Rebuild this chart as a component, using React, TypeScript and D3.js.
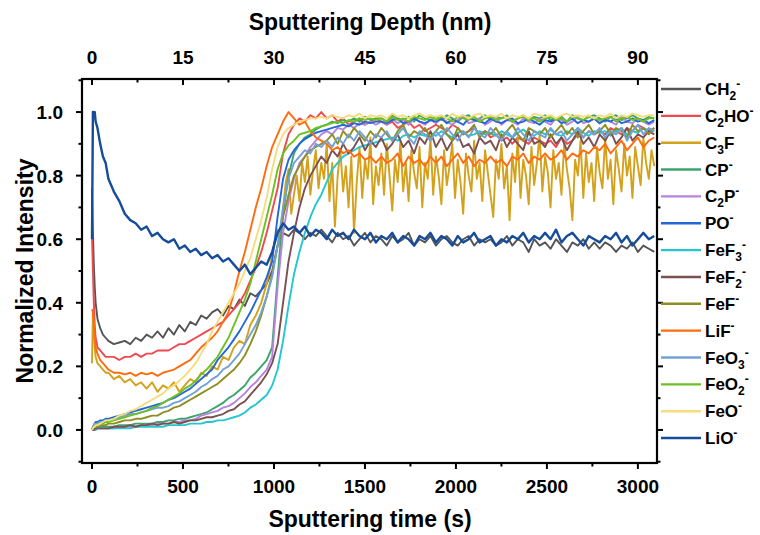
import React from "react";
import * as d3 from "d3";

// Sputtering time (s) sample points
const TIMES = [0, 5, 10, 15, 20, 30, 45, 60, 75,
  90, 120, 150, 180, 210, 240, 270, 300, 330, 360,
  390, 420, 450, 480, 510, 540, 570, 600, 630, 660,
  690, 720, 750, 780, 810, 840, 870, 900, 930, 960,
  990, 1020, 1050, 1080, 1110, 1140, 1170, 1200, 1230, 1260,
  1290, 1320, 1350, 1380, 1410, 1440, 1470, 1500, 1530, 1560,
  1590, 1620, 1650, 1680, 1710, 1740, 1770, 1800, 1830, 1860,
  1890, 1920, 1950, 1980, 2010, 2040, 2070, 2100, 2130, 2160,
  2190, 2220, 2250, 2280, 2310, 2340, 2370, 2400, 2430, 2460,
  2490, 2520, 2550, 2580, 2610, 2640, 2670, 2700, 2730, 2760,
  2790, 2820, 2850, 2880, 2910, 2940, 2970, 3000, 3030, 3060,
  3090];

// C3F is sampled on a finer grid after 960 s (it is very noisy)
const C3F_TIMES = TIMES.slice(0, 39).concat(d3.range(975, 3091, 15));

// Normalized intensity (in %)
const CH2 = [76, 62, 52, 45, 40, 35, 32, 30, 29,
  28, 27, 27.5, 28, 27, 29, 28, 30, 29, 31,
  29, 32, 30, 33, 31, 34, 33, 36, 35, 37,
  38, 36, 39, 38, 41, 39, 43, 42, 44, 46,
  50, 58, 62, 61, 63, 62, 60, 62, 61, 63,
  61, 59, 62, 60, 61, 58, 60, 62, 59, 61,
  60, 58, 61, 59, 60, 62, 58, 60, 59, 61,
  58, 60, 61, 59, 58, 60, 61, 58, 60, 59,
  60, 58, 59, 61, 58, 60, 59, 56, 60, 58,
  59, 57, 60, 58, 56, 59, 58, 60, 57, 59,
  57, 59, 58, 56, 58, 57, 59, 56, 58, 57,
  56];
const C2HO = [61, 50, 40, 33, 29, 26, 25, 24, 23,
  23, 23, 22, 23, 23, 24, 23, 24, 24, 25,
  25, 25, 26, 27, 27, 28, 29, 30, 31, 32,
  33, 34, 36, 38, 40, 43, 47, 51, 56, 62,
  69, 76, 87, 93, 96, 98, 97, 99, 98, 100,
  98, 99, 97, 98, 96, 97, 98, 96, 97, 98,
  97, 96, 97, 95, 96, 97, 95, 96, 94, 95,
  96, 95, 94, 96, 95, 93, 94, 95, 93, 94,
  92, 93, 91, 92, 90, 92, 91, 90, 92, 91,
  90, 91, 89, 92, 90, 91, 93, 92, 94, 93,
  94, 93, 95, 94, 93, 95, 94, 96, 95, 94,
  95];
const C3F = [21, 37, 32, 26, 23, 21, 20, 19, 18,
  18, 16, 17, 15, 16, 14, 15, 13, 15, 12,
  14, 13, 15, 12, 14, 16, 15, 18, 17, 20,
  19, 23, 22, 26, 28, 27, 33, 36, 40, 46,
  50, 55, 60, 63, 58, 70, 78, 82, 68, 74, 80, 72, 84, 78, 86, 74, 82, 88, 76, 84,
  79, 90, 72, 84, 64, 80, 88, 75, 83, 70,
  86, 62, 78, 89, 73, 85, 79, 92, 71, 83,
  77, 87, 74, 90, 80, 69, 85, 78, 91, 75,
  84, 72, 88, 81, 76, 89, 70, 84, 79, 92,
  74, 86, 80, 71, 88, 77, 83, 90, 73, 85,
  78, 68, 87, 80, 75, 91, 79, 84, 72, 88,
  81, 74, 67, 85, 79, 90, 76, 83, 66, 87,
  78, 92, 73, 85, 80, 71, 89, 77, 84, 93,
  75, 86, 81, 70, 88, 79, 84, 74, 90, 82,
  76, 66, 85, 80, 91, 73, 87, 78, 84, 72,
  89, 81, 76, 92, 79, 85, 71, 88, 82, 75,
  90, 80, 86, 73, 89, 83, 77, 92, 84, 79,
  88, 83];
const CP = [0, 0, 0.5, 0.5, 1, 1, 1, 1, 1,
  1, 1, 1.5, 1.5, 1.5, 2, 2, 2, 2, 2.5,
  2.5, 3, 3, 3.5, 3.5, 4, 4.5, 5, 5.5, 6.5,
  7.5, 8.5, 10, 11, 12.5, 14, 16.5, 18, 20, 22,
  26, 48, 68, 80, 87, 90, 92, 93, 94.5, 95.5,
  96, 97, 96.5, 97.5, 97, 98, 97, 98.5, 97.5, 98,
  98, 97, 99, 98, 97.5, 98.5, 97, 99, 98, 97.5,
  98.5, 97.5, 99, 98, 97, 98.5, 99, 97.5, 98, 99,
  97.5, 98.5, 98, 99, 97, 98, 99, 97.5, 98.5, 98,
  99, 97.5, 98, 98.5, 97, 99, 98, 97.5, 98.5, 99,
  98, 97, 98.5, 99, 97.5, 98, 99, 98, 97.5, 98.5,
  98];
const C2P = [0, 0, 0.5, 0.5, 0.5, 0.5, 0.5, 0.5, 0.5,
  0.5, 0.5, 1, 1, 1, 1, 1.5, 1.5, 1.5, 2,
  2, 2, 2.5, 2.5, 3, 3, 3.5, 4.5, 5, 5.5,
  6, 7, 7.5, 8.5, 10, 11.5, 13.5, 15, 17, 19,
  23, 45, 62, 72, 79, 84, 86, 89, 91, 93,
  94, 93, 95, 94.5, 96, 95, 96.5, 96, 97, 96,
  97, 96, 98, 96.5, 97.5, 96, 98, 97, 96, 97.5,
  96.5, 98, 97, 96, 97.5, 99, 96.5, 97, 98, 96,
  97, 98.5, 96, 97.5, 97, 96, 98, 97, 96.5, 98,
  97, 96, 98, 97.5, 96, 97, 98.5, 96.5, 97, 98,
  96.5, 98, 97, 96, 98.5, 97, 96.5, 98, 97, 96,
  97];
const PO = [0, 1, 1.5, 2, 2.5, 2.5, 3, 3, 3.5,
  3.5, 4, 4.5, 5, 5.5, 6, 6.5, 7, 7.5, 8,
  8.5, 9.5, 10, 11, 12, 13, 14.5, 16, 17.5, 19,
  22, 24, 26, 28.5, 31, 34, 37, 40.5, 44, 48,
  53, 67, 79, 85, 88, 90, 91.5, 92.5, 93.5, 94,
  94.5, 95, 95.5, 96, 95.5, 96.5, 96, 97, 96.5, 97,
  97, 96.5, 97.5, 98, 96.5, 97, 98, 97, 96.5, 97.5,
  97, 98, 96.5, 97.5, 97, 96, 98, 97.5, 97, 96.5,
  98, 97, 96.5, 97.5, 98, 96.5, 97, 98, 97, 96,
  97.5, 97, 98, 96.5, 97, 98, 96.5, 97.5, 97, 98,
  96.5, 97.5, 97, 98, 96.5, 97, 98, 97, 97.5, 96.5,
  97.5];
const FEF3 = [0, 0, 0, 0, 0, 0.5, 0.5, 0.5, 0.5,
  0.5, 0.5, 0.5, 0.5, 0.5, 1, 1, 1, 1, 1,
  1, 1.5, 1.5, 1.5, 1.5, 2, 2, 2, 2.5, 2.5,
  3, 3, 3.5, 4, 4.5, 5.5, 7, 8, 9.5, 11,
  14, 19, 28, 39, 49, 56, 62, 67, 71, 74,
  78, 82, 84, 86, 87, 88, 89, 89.5, 90, 90.5,
  91, 91.5, 92, 91, 92.5, 93, 92, 93, 92.5, 93.5,
  92.5, 94, 93, 92, 93.5, 94, 92.5, 93, 94, 93,
  93.5, 92.5, 94, 93, 92, 93.5, 94.5, 93, 92.5, 94,
  93, 94.5, 93, 92.5, 94, 93, 95, 93.5, 92.5, 94,
  93.5, 94, 92.5, 94, 95, 93, 94, 93.5, 95, 94,
  94];
const FEF2 = [0, 0, 0, 0.5, 0.5, 0.5, 0.5, 0.5, 0.5,
  0.5, 1, 1, 1, 1.5, 1, 1.5, 1.5, 2, 1.5,
  2, 2, 2.5, 2, 2.5, 3, 3, 3.5, 4, 4,
  4.5, 5, 6, 6.5, 8, 9, 11, 13, 15, 17.5,
  21, 27, 40, 53, 62, 70, 76, 80, 83, 86,
  84, 88, 86, 90, 87, 89, 92, 88, 91, 89,
  92, 88, 90, 93, 89, 91, 87, 92, 90, 94,
  89, 92, 88, 91, 93, 89, 90, 87, 92, 90,
  91, 88, 93, 89, 92, 90, 88, 94, 90, 91,
  89, 93, 90, 92, 88, 91, 94, 90, 92, 89,
  93, 91, 94, 90, 92, 95, 91, 93, 92, 94,
  93];
const FEF = [0, 0.5, 1, 1, 1, 1, 1.5, 1.5, 1.5,
  2, 2, 2.5, 3, 3, 3.5, 3.5, 4, 4.5, 4.5,
  5.5, 6, 7, 7.5, 8.5, 9.5, 10.5, 11.5, 12.5, 13.5,
  14.5, 16, 17.5, 19, 21, 23.5, 27, 31, 36, 42,
  49, 58, 67, 74, 80, 83, 86, 88, 89, 90,
  91, 93, 90, 94, 92, 95, 93, 91, 94, 92,
  95, 93, 91, 94, 96, 92, 94, 93, 95, 92,
  94, 96, 93, 91, 95, 93, 94, 96, 92, 94,
  93, 95, 92, 94, 96, 93, 91, 95, 94, 93,
  95, 92, 94, 96, 93, 95, 92, 94, 96, 93,
  94, 96, 93, 95, 94, 92, 96, 94, 95, 93,
  95];
const LIF = [38, 37, 33, 29, 26, 24, 22, 21, 20,
  19, 18, 18, 17.5, 18, 17, 18, 17.5, 18, 17,
  18, 18.5, 19, 20, 21, 22, 24, 26, 27.5, 29,
  31, 34, 37, 43, 50, 56, 63, 70, 76, 83,
  89, 93, 97, 100, 98, 96, 97, 94, 92, 91,
  90, 88, 89, 87, 88, 86, 87, 85, 86, 84,
  86, 84, 85, 87, 83, 86, 84, 85, 83, 86,
  84, 86, 83, 85, 87, 84, 86, 83, 85, 84,
  86, 84, 85, 83, 86, 85, 87, 84, 86, 85,
  87, 85, 86, 88, 85, 87, 86, 88, 87, 89,
  88, 90, 87, 89, 91, 88, 90, 92, 89, 91,
  92];
const FEO3 = [0, 1, 1.5, 2, 2, 2, 2.5, 2.5, 3,
  3, 3.5, 4, 4.5, 5, 5, 5.5, 6, 6.5, 7,
  7, 7.5, 8.5, 9, 10, 11, 12, 13.5, 14.5, 16,
  17, 19, 20, 22, 24, 27, 30, 33, 37, 42,
  48, 58, 70, 79, 84, 86, 88, 87, 90, 89,
  91, 89, 92, 90, 93, 91, 94, 92, 90, 93,
  92, 94, 91, 93, 95, 92, 90, 94, 93, 91,
  94, 92, 95, 93, 91, 94, 92, 95, 93, 92,
  95, 93, 91, 94, 92, 95, 93, 91, 94, 93,
  92, 95, 93, 94, 91, 93, 95, 92, 94, 93,
  95, 92, 94, 93, 95, 91, 94, 96, 93, 95,
  94];
const FEO2 = [0, 0.5, 1, 1, 1.5, 1.5, 2, 2, 2.5,
  2.5, 3, 3.5, 4, 4.5, 5, 5.5, 6, 7, 7.5,
  8.5, 9.5, 10.5, 11.5, 13, 14, 15.5, 17.5, 19, 21,
  23, 26, 29, 33, 37, 41, 46, 53, 60, 67,
  74, 82, 87, 89.5, 91, 93, 93.5, 94, 95, 95.5,
  96, 96.5, 97, 96.5, 97.5, 97, 98, 97.5, 98, 97.5,
  98, 97, 98.5, 97.5, 98, 97, 98.5, 98, 97.5, 98.5,
  97.5, 98.5, 98, 97, 98.5, 98, 97.5, 98.5, 97, 98,
  98.5, 97.5, 98, 98.5, 97, 98, 98.5, 97.5, 98, 97,
  98, 98.5, 97.5, 98, 97, 98.5, 98, 97.5, 98.5, 98,
  97.5, 98, 98.5, 97, 98, 98.5, 97.5, 98, 97, 98,
  98];
const FEO = [0, 0.5, 1, 1, 1.5, 1.5, 2, 2.5, 3,
  3, 3.5, 4.5, 5, 6, 6.5, 7.5, 8.5, 9.5, 10.5,
  11.5, 13, 14, 15.5, 17, 19, 21, 24, 27, 31,
  34, 37, 40, 43, 46, 50, 54, 60, 66, 73,
  82, 89, 93, 95, 96, 97, 97.5, 98, 98, 98.5,
  98, 99, 98.5, 98, 99, 98.5, 99.5, 98, 99, 98.5,
  99, 98, 99.5, 98.5, 99, 98, 99, 99.5, 98.5, 99,
  98.5, 99, 98, 99.5, 98.5, 99, 98, 99, 99.5, 98.5,
  99, 98.5, 99.5, 98, 99, 98.5, 99, 98, 99.5, 99,
  98.5, 99, 98, 99, 99.5, 98.5, 99, 98.5, 99, 98,
  99, 98.5, 99.5, 98, 99, 98.5, 99.5, 99, 98.5, 99,
  99];
const LIO = [60, 100, 99, 100, 97, 95, 90, 86, 84,
  79, 75, 72, 68, 66, 65, 63, 64, 61, 62,
  60, 59, 60, 57, 58, 56, 57, 55, 56, 54,
  55, 53, 54, 52, 50, 52, 49, 51, 53, 52,
  56, 62, 65, 63, 64, 62, 64, 61, 63, 62,
  60, 63, 61, 62, 60, 63, 61, 60, 62, 59,
  61, 60, 62, 59, 61, 60, 58, 61, 60, 62,
  59, 61, 60, 58, 61, 59, 60, 62, 59, 60,
  61, 58, 60, 59, 61, 60, 62, 59, 61, 60,
  62, 60, 63, 59, 61, 62, 60, 58, 61, 60,
  59, 61, 60, 62, 59, 61, 58, 60, 62, 60,
  61];

const LABELS = ["CH2-", "C2HO-", "C3F", "CP-", "C2P-", "PO-", "FeF3-", "FeF2-", "FeF-", "LiF-", "FeO3-", "FeO2-", "FeO-", "LiO-"];
const SERIES_VALUES = [CH2, C2HO, C3F, CP, C2P, PO, FEF3, FEF2, FEF, LIF, FEO3, FEO2, FEO, LIO];
const SERIES_TIMES = [TIMES, TIMES, C3F_TIMES, TIMES, TIMES, TIMES, TIMES, TIMES, TIMES, TIMES, TIMES, TIMES, TIMES, TIMES];
const COLORS = ["#545454", "#ee4a4f", "#d3a11b", "#3ba46c", "#b684e0", "#2468d6", "#22c7cf", "#7b5050", "#8e8e22", "#ff6b0d", "#73a1d6", "#6ec121", "#f5dc7f", "#164c9a"];

const TIME_TICKS = [0, 500, 1000, 1500, 2000, 2500, 3000];
const DEPTH_TICKS = [0, 15, 30, 45, 60, 75, 90];
const Y_TICKS = [0, 0.2, 0.4, 0.6, 0.8, 1.0];

const FONT = "'Liberation Sans', Arial, sans-serif";

function Label({ name, x, y }: { name: string; x: number; y: number }) {
  let cur = 0;
  const parts = name.split("").map((c, i) => {
    const isSub = /\d/.test(c);
    const isSup = c === "-";
    const target = isSub ? 5 : isSup ? -7 : 0;
    const dy = target - cur;
    cur = target;
    return (
      <tspan key={i} dy={dy} fontSize={isSub || isSup ? 12 : 17}>
        {c}
      </tspan>
    );
  });
  return (
    <text x={x} y={y} fontFamily={FONT} fontWeight="bold" fill="#000">
      {parts}
    </text>
  );
}

export default function App() {
  const L = 82, R = 657, T = 79, B = 463;
  const x = d3.scaleLinear().domain([-55, 3105]).range([L, R]);
  const xd = d3.scaleLinear().domain([-55 * 0.03, 3105 * 0.03]).range([L, R]);
  const y = d3.scaleLinear().domain([-0.104, 1.104]).range([B, T]);

  const makeLine = (times: number[]) =>
    d3
      .line<number>()
      .x((_, i) => x(times[i]))
      .y((d) => y(d / 100));

  const minorT = d3.range(250, 3100, 500);
  const minorD = d3.range(7.5, 93, 15);
  const minorY = [-0.1, 0.1, 0.3, 0.5, 0.7, 0.9, 1.1];

  return (
    <svg width={760} height={535} style={{ position: "absolute", left: 0, top: 0, background: "#fff" }}>
      <defs>
        <clipPath id="plot">
          <rect x={L} y={T} width={R - L} height={B - T} />
        </clipPath>
      </defs>
      <rect x={0} y={0} width={760} height={535} fill="#fff" />
      <g clipPath="url(#plot)">
        {SERIES_VALUES.map((vals, i) => (
          <path
            key={LABELS[i]}
            d={makeLine(SERIES_TIMES[i])(vals) || ""}
            fill="none"
            stroke={COLORS[i]}
            strokeWidth={LABELS[i] === "LiO-" ? 2.4 : 1.9}
            strokeLinejoin="round"
          />
        ))}
      </g>
      {/* frame */}
      <rect x={L} y={T} width={R - L} height={B - T} fill="none" stroke="#000" strokeWidth={2.2} />
      {/* bottom ticks */}
      {TIME_TICKS.map((t) => (
        <g key={"bt" + t}>
          <line x1={x(t)} x2={x(t)} y1={B} y2={B + 6} stroke="#000" strokeWidth={2} />
          <text x={x(t)} y={B + 30} textAnchor="middle" fontFamily={FONT} fontWeight="bold" fontSize={19}>
            {t}
          </text>
        </g>
      ))}
      {minorT.map((t) => (
        <line key={"bm" + t} x1={x(t)} x2={x(t)} y1={B} y2={B + 3.5} stroke="#000" strokeWidth={2} />
      ))}
      {/* top ticks */}
      {DEPTH_TICKS.map((d) => (
        <g key={"tt" + d}>
          <line x1={xd(d)} x2={xd(d)} y1={T} y2={T + 6} stroke="#000" strokeWidth={2} />
          <text x={xd(d)} y={T - 15} textAnchor="middle" fontFamily={FONT} fontWeight="bold" fontSize={19}>
            {d}
          </text>
        </g>
      ))}
      {minorD.map((d) => (
        <line key={"tm" + d} x1={xd(d)} x2={xd(d)} y1={T} y2={T + 3.5} stroke="#000" strokeWidth={2} />
      ))}
      {/* left + right ticks */}
      {Y_TICKS.map((v) => (
        <g key={"yt" + v}>
          <line x1={L - 6} x2={L} y1={y(v)} y2={y(v)} stroke="#000" strokeWidth={2} />
          <line x1={R} x2={R + 6} y1={y(v)} y2={y(v)} stroke="#000" strokeWidth={2} />
          <text x={L - 19} y={y(v) + 7} textAnchor="end" fontFamily={FONT} fontWeight="bold" fontSize={19}>
            {v.toFixed(1)}
          </text>
        </g>
      ))}
      {minorY.map((v) => (
        <g key={"ym" + v}>
          <line x1={L - 3.5} x2={L} y1={y(v)} y2={y(v)} stroke="#000" strokeWidth={2} />
          <line x1={R} x2={R + 3.5} y1={y(v)} y2={y(v)} stroke="#000" strokeWidth={2} />
        </g>
      ))}
      {/* titles */}
      <text x={370} y={527} textAnchor="middle" fontFamily={FONT} fontWeight="bold" fontSize={23}>
        Sputtering time (s)
      </text>
      <text x={370} y={30} textAnchor="middle" fontFamily={FONT} fontWeight="bold" fontSize={23}>
        Sputtering Depth (nm)
      </text>
      <text
        transform={`translate(33, ${(T + B) / 2}) rotate(-90)`}
        textAnchor="middle"
        fontFamily={FONT}
        fontWeight="bold"
        fontSize={23}
      >
        Normalized Intensity
      </text>
      {/* legend */}
      {LABELS.map((name, i) => {
        const ly = 89 + i * 26.85;
        return (
          <g key={"lg" + name}>
            <line x1={661} x2={701} y1={ly} y2={ly} stroke={COLORS[i]} strokeWidth={2.4} />
            <Label name={name} x={705} y={ly + 6} />
          </g>
        );
      })}
    </svg>
  );
}
